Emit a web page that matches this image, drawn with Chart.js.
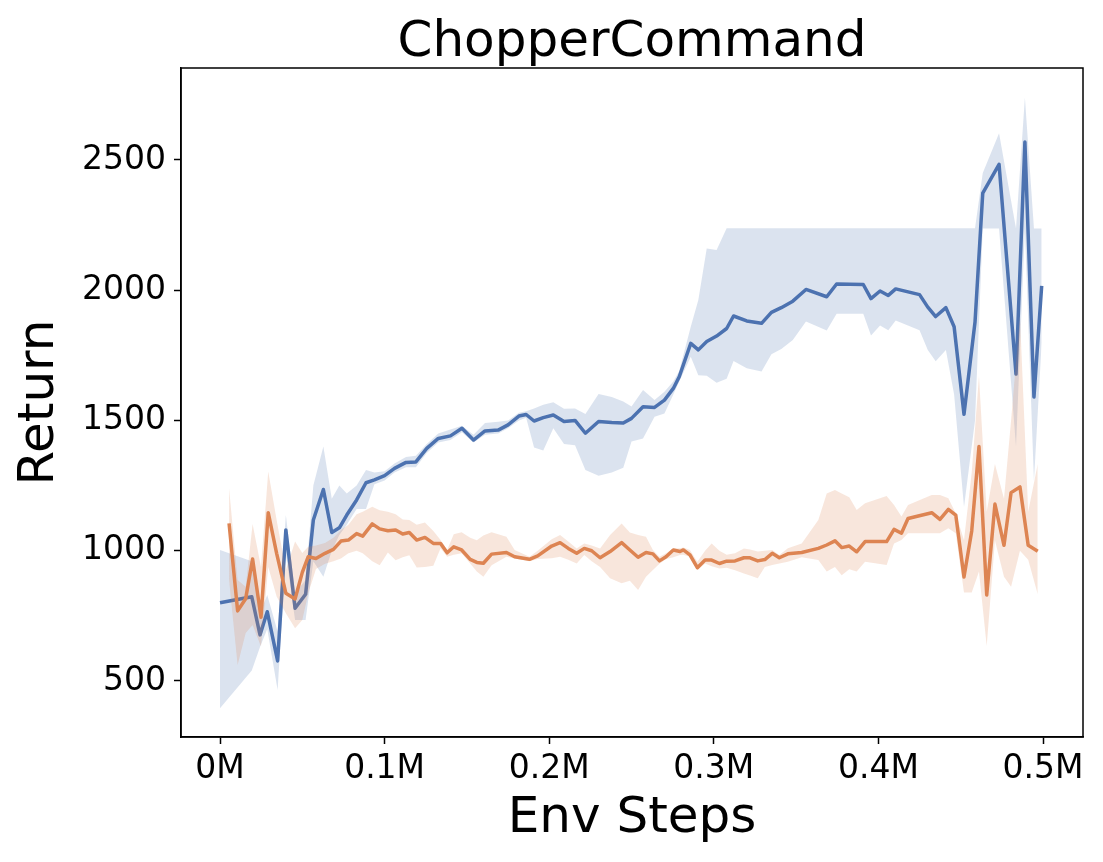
<!DOCTYPE html>
<html>
<head>
<meta charset="utf-8">
<script src="https://cdn.jsdelivr.net/npm/chart.js@4/dist/chart.umd.min.js"></script>
<style>
    html, body { margin: 0; padding: 0; background: #fff; }
    canvas { display: block; }
</style>
</head>
<body>
<canvas id="chart" width="1103" height="862"></canvas>
<script>
// Env steps are in thousands
var xTicks = [0, 100, 200, 300, 400, 500];
var yTicks = [500, 1000, 1500, 2000, 2500];

// Blue run
var blueSteps = [0, 19.3, 24.3, 28.7, 35, 40, 45.6, 52, 56.7, 62.8, 67.9, 72.5, 77, 83, 88.7, 93.8,
    100, 106, 113, 119, 125.6, 132.6, 140, 147, 154, 161, 169, 175, 181.6, 186, 190.8, 196.4,
    202.5, 209, 215.7, 222, 230, 238, 245, 250, 257, 264, 270, 275.4, 279, 286, 290.6, 295.7,
    301.7, 307.8, 312, 320, 329, 335, 341, 348, 356, 368.6, 374.6, 390.8, 395.5, 401, 406, 410.5,
    425, 430, 434.8, 441, 446, 452, 458.7, 463.4, 473.3, 483.6, 489, 494.5, 499.2];
var blueMean = [800, 823, 677, 766, 577, 1080, 779, 833, 1118, 1235, 1070, 1088, 1137, 1195, 1261, 1272,
    1288, 1316, 1339, 1341, 1393, 1431, 1441, 1470, 1425, 1460, 1463, 1483, 1517, 1523, 1498, 1511,
    1521, 1496, 1500, 1451, 1496, 1492, 1490, 1508, 1553, 1550, 1578, 1623, 1668, 1796, 1771, 1803,
    1824, 1853, 1901, 1882, 1873, 1915, 1933, 1958, 2003, 1975, 2024, 2022, 1968, 1997, 1980, 2005,
    1983, 1935, 1899, 1933, 1860, 1524, 1878, 2373, 2483, 1678, 2569, 1590, 2017];
var blueLow = [395, 540, 630, 700, 465, 990, 734, 734, 960, 900, 1000, 1060, 1100, 1160, 1160, 1255,
    1270, 1300, 1320, 1320, 1375, 1415, 1425, 1455, 1415, 1445, 1450, 1470, 1500, 1510, 1396, 1385,
    1470, 1410, 1405, 1310, 1288, 1300, 1319, 1419, 1431, 1514, 1527, 1600, 1650, 1745, 1674, 1672,
    1645, 1660, 1728, 1700, 1688, 1754, 1774, 1809, 1880, 1845, 1910, 1910, 1826, 1865, 1846, 1884,
    1846, 1771, 1727, 1771, 1600, 1168, 1500, 2237, 2237, 1400, 2237, 1268, 1800];
var blueHigh = [1003, 960, 760, 830, 690, 1137, 837, 888, 1250, 1400, 1200, 1250, 1220, 1250, 1310, 1300,
    1305, 1335, 1360, 1365, 1410, 1450, 1465, 1480, 1445, 1490, 1495, 1500, 1530, 1535, 1546, 1560,
    1570, 1545, 1546, 1525, 1602, 1590, 1573, 1554, 1617, 1579, 1610, 1650, 1690, 1860, 1962, 2160,
    2154, 2238, 2238, 2238, 2238, 2238, 2238, 2238, 2238, 2238, 2238, 2238, 2238, 2238, 2238, 2238,
    2238, 2238, 2238, 2238, 2238, 2238, 2238, 2450, 2603, 2237, 2740, 2237, 2237];

// Orange run
var orangeSteps = [5.5, 10.7, 15.6, 19.8, 24.9, 29.3, 34.4, 40, 45.6, 50, 53.6, 58.3, 63.8, 68.9, 73.5, 78,
    83, 86.7, 92.5, 97, 102, 106.7, 111, 115, 119.5, 124.5, 129.6, 134, 138, 142, 146.8, 152,
    156, 160, 165, 174, 179, 188, 193, 201.5, 206.6, 211.6, 216.7, 221.3, 225.8, 230.9, 237, 244,
    249, 254, 258.8, 263, 267, 271, 275.4, 279.5, 281.5, 285.5, 290, 294.7, 298.7, 303.4, 307.8, 312.9,
    318.3, 322, 326.7, 331, 335.5, 339.8, 345, 353.4, 363.5, 368.6, 373.6, 377.7, 382.3, 386.8, 391.9,
    405, 409.5, 414, 418, 432.4, 437.4, 442.5, 447, 452, 456.7, 461.1, 465.8, 470.8, 476.3, 480.6,
    486, 491, 496.8];
var orangeMean = [1105, 769, 816, 968, 745, 1146, 990, 837, 815, 917, 977, 970, 990, 1005, 1037, 1041,
    1066, 1056, 1103, 1084, 1077, 1080, 1064, 1070, 1041, 1051, 1028, 1028, 992, 1015, 1003, 967,
    955, 952, 987, 993, 977, 967, 980, 1018, 1031, 1009, 990, 1009, 1000, 973, 997, 1031,
    1003, 975, 993, 988, 961, 977, 1003, 997, 1003, 984, 935, 964, 964, 951, 960, 961,
    973, 973, 961, 966, 990, 973, 988, 993, 1009, 1022, 1038, 1012, 1018, 996, 1035,
    1035, 1082, 1067, 1124, 1146, 1120, 1159, 1137, 899, 1076, 1400, 830, 1179, 1021, 1223,
    1245, 1021, 998];
var orangeLow = [888, 561, 684, 715, 632, 938, 824, 760, 702, 734, 837, 930, 950, 960, 970, 990,
    1000, 990, 960, 944, 993, 963, 975, 983, 936, 938, 942, 1010, 977, 985, 990, 951,
    920, 900, 944, 977, 970, 960, 968, 971, 977, 965, 951, 984, 960, 938, 894, 875,
    885, 849, 900, 926, 950, 968, 975, 984, 985, 977, 926, 951, 940, 932, 935, 925,
    913, 905, 894, 938, 945, 951, 958, 975, 964, 920, 938, 906, 929, 920, 958,
    945, 1028, 1041, 1067, 1067, 1067, 1086, 1067, 840, 840, 920, 634, 1039, 900, 862,
    1000, 965, 833];
var orangeHigh = [1240, 888, 862, 1103, 938, 1304, 1118, 926, 1035, 991, 1015, 1020, 1030, 1050, 1080, 1100,
    1140, 1150, 1169, 1155, 1150, 1140, 1120, 1118, 1100, 1108, 1076, 1041, 1003, 1063, 1071, 1050,
    1040, 1058, 1071, 1054, 1003, 977, 1000, 1044, 1060, 1035, 1009, 1028, 1020, 1009, 1060, 1105,
    1070, 1060, 1054, 1003, 977, 990, 1009, 1010, 1012, 1003, 958, 1000, 1028, 1000, 985, 990,
    1009, 1005, 997, 1000, 1003, 984, 1010, 1028, 1118, 1220, 1233, 1220, 1205, 1156, 1182,
    1210, 1176, 1131, 1176, 1214, 1214, 1201, 1143, 1040, 1300, 1671, 1150, 1333, 1200, 1500,
    1900, 1150, 1333];

var BLUE = "#4c72b0";
var ORANGE = "#dd8452";
var FONT = "'DejaVu Sans', sans-serif";
var TITLE = "ChopperCommand";

function points(steps, values) {
    return steps.map((s, i) => ({x: s, y: values[i]}));
}

function lineSet(steps, values, color, order) {
    return {
        data: points(steps, values),
        borderColor: color,
        borderWidth: 3.5,
        borderJoinStyle: "round",
        pointRadius: 0,
        fill: false,
        order: order,
    };
}

function bandSet(steps, values, fillColor, target, order) {
    return {
        data: points(steps, values),
        borderColor: "rgba(0,0,0,0)",
        borderWidth: 1,
        pointRadius: 0,
        backgroundColor: fillColor,
        fill: target === null ? false : target,
        order: order,
    };
}

// full box round the plot area, and the title centred over it
const framePlugin = {
    id: "frame",
    afterDraw(chart) {
        let a = chart.chartArea;
        let ctx = chart.ctx;
        ctx.save();
        ctx.strokeStyle = "#000";
        ctx.lineWidth = 1.5;
        ctx.strokeRect(a.left, a.top, a.right - a.left, a.bottom - a.top);

        ctx.fillStyle = "#000";
        ctx.font = "50px " + FONT;
        ctx.textAlign = "center";
        ctx.textBaseline = "alphabetic";
        ctx.fillText(TITLE, (a.left + a.right) / 2, 56);
        ctx.restore();
    }
};

const axisCommon = {
    grid: {
        drawOnChartArea: false,
        drawTicks: true,
        tickLength: 7,
        tickColor: "#000",
        tickWidth: 1.5,
    },
    border: {display: true, color: "#000", width: 1.5},
};

new Chart(document.getElementById("chart").getContext("2d"), {
    type: "line",
    data: {
        datasets: [
            lineSet(orangeSteps, orangeMean, ORANGE, 0),
            bandSet(orangeSteps, orangeHigh, "rgba(221,132,82,0.2)", 2, 1),
            bandSet(orangeSteps, orangeLow, "rgba(221,132,82,0.2)", null, 2),
            lineSet(blueSteps, blueMean, BLUE, 3),
            bandSet(blueSteps, blueHigh, "rgba(76,114,176,0.2)", 5, 4),
            bandSet(blueSteps, blueLow, "rgba(76,114,176,0.2)", null, 5),
        ]
    },
    options: {
        responsive: false,
        animation: false,
        layout: {padding: {left: 0, right: 20, top: 68, bottom: 0}},
        plugins: {
            legend: {display: false},
            tooltip: {enabled: false},
            title: {display: false},
        },
        scales: {
            x: {
                ...axisCommon,
                type: "linear",
                min: -23.7,
                max: 524.3,
                afterBuildTicks: s => { s.ticks = xTicks.map(v => ({value: v})); },
                afterFit: s => { s.height = 125; },
                ticks: {
                    color: "#000",
                    font: {family: FONT, size: 33},
                    padding: 6,
                    maxRotation: 0,
                    autoSkip: false,
                    callback: v => (v / 1000) + "M",
                },
                title: {
                    display: true,
                    text: "Env Steps",
                    color: "#000",
                    font: {family: FONT, size: 50},
                    padding: {top: 0, bottom: 13},
                },
            },
            y: {
                ...axisCommon,
                type: "linear",
                min: 285,
                max: 2853,
                afterBuildTicks: s => { s.ticks = yTicks.map(v => ({value: v})); },
                afterFit: s => { s.width = 181; },
                ticks: {
                    color: "#000",
                    font: {family: FONT, size: 33},
                    padding: 8,
                    callback: v => String(v),
                },
                title: {
                    display: true,
                    text: "Return",
                    color: "#000",
                    font: {family: FONT, size: 50},
                    padding: {top: 10, bottom: 0},
                },
            },
        },
    },
    plugins: [framePlugin],
});
</script>
</body>
</html>
